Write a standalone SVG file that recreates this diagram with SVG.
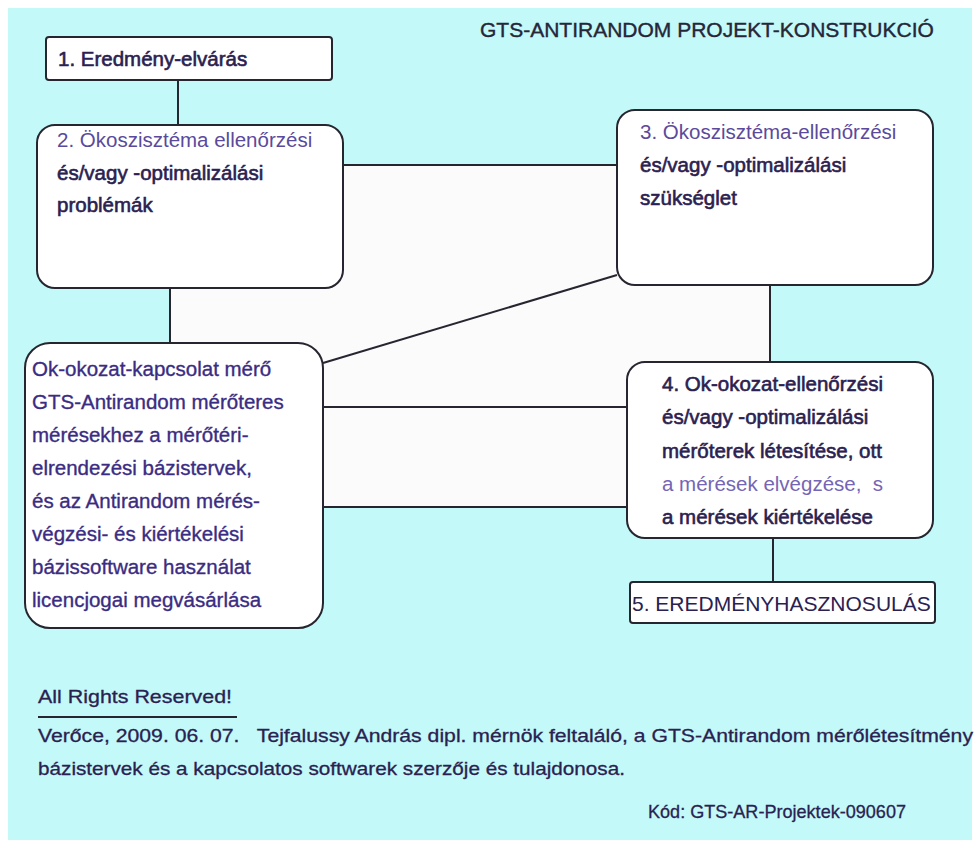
<svg xmlns="http://www.w3.org/2000/svg" width="977" height="845" viewBox="0 0 977 845">
<style>
.box{fill:#ffffff;stroke:#262630;stroke-width:2}
.ln{stroke:#262630;stroke-width:2;fill:none}
.t{font-family:"Liberation Sans",Arial,sans-serif;font-size:20.5px;fill:#2a2150}
.b{stroke:#2a2150;stroke-width:0.6}
.p{fill:#5a4a9c}
.lp{fill:#7565b5}
.lb{fill:#3a2c82;stroke:#3a2c82;stroke-width:0.35}
.s{font-family:"Liberation Sans",Arial,sans-serif;font-size:19px;fill:#2a2150;stroke:#2a2150;stroke-width:0.3}
</style>
<rect x="0" y="0" width="977" height="845" fill="#ffffff"/>
<rect x="8" y="8" width="964" height="832" fill="#c3f9f9"/>
<path d="M170,165 H770 V407 H627 V507 H323 V407 H170 Z" fill="#fbfbfb"/>
<text class="t" x="480" y="37" style="font-size:21px;fill:#262638;stroke:#262638;stroke-width:0.4">GTS-ANTIRANDOM PROJEKT-KONSTRUKCIÓ</text>
<g id="connectors">
<line class="ln" x1="178" y1="80" x2="178" y2="125"/>
<line class="ln" x1="343" y1="165" x2="617" y2="165"/>
<line class="ln" x1="170" y1="288" x2="170" y2="343"/>
<line class="ln" x1="323" y1="363" x2="617" y2="275"/>
<line class="ln" x1="323" y1="407" x2="627" y2="407"/>
<line class="ln" x1="323" y1="507" x2="627" y2="507"/>
<line class="ln" x1="770" y1="285" x2="770" y2="362"/>
<line class="ln" x1="773" y1="538" x2="773" y2="582"/>
</g>
<g id="n1">
<rect class="box" x="46" y="37" width="286" height="43" rx="3"/>
<text class="t b" x="58" y="66">1. Eredmény-elvárás</text>
</g>
<g id="n2">
<rect class="box" x="37" y="125" width="306" height="163" rx="18"/>
<text class="t p" x="57" y="147">2. Ökoszisztéma ellenőrzési</text>
<text class="t b" x="57" y="180">és/vagy -optimalizálási</text>
<text class="t b" x="57" y="212">problémák</text>
</g>
<g id="n3">
<rect class="box" x="617" y="110" width="316" height="175" rx="18"/>
<text class="t p" x="640" y="139">3. Ökoszisztéma-ellenőrzési</text>
<text class="t b" x="640" y="172">és/vagy -optimalizálási</text>
<text class="t b" x="640" y="205">szükséglet</text>
</g>
<g id="n-left">
<rect class="box" x="25" y="343" width="298" height="285" rx="25"/>
<text class="t lb" x="32" y="376">Ok-okozat-kapcsolat mérő</text>
<text class="t lb" x="32" y="409">GTS-Antirandom mérőteres</text>
<text class="t lb" x="32" y="442">mérésekhez a mérőtéri-</text>
<text class="t lb" x="32" y="475">elrendezési bázistervek,</text>
<text class="t lb" x="32" y="508">és az Antirandom mérés-</text>
<text class="t lb" x="32" y="541">végzési- és kiértékelési</text>
<text class="t lb" x="32" y="574">bázissoftware használat</text>
<text class="t lb" x="32" y="607">licencjogai megvásárlása</text>
</g>
<g id="n4">
<rect class="box" x="627" y="362" width="306" height="176" rx="18"/>
<text class="t b" x="662" y="391">4. Ok-okozat-ellenőrzési</text>
<text class="t b" x="662" y="424">és/vagy -optimalizálási</text>
<text class="t b" x="662" y="458">mérőterek létesítése, ott</text>
<text class="t lp" x="662" y="491" xml:space="preserve">a mérések elvégzése,  s</text>
<text class="t b" x="662" y="524">a mérések kiértékelése</text>
</g>
<g id="n5">
<rect class="box" x="630" y="582" width="305" height="41" rx="3"/>
<text class="t" x="632" y="611" style="font-size:21px">5. EREDMÉNYHASZNOSULÁS</text>
</g>
<g id="footer">
<text class="s" x="38" y="703" textLength="194" lengthAdjust="spacingAndGlyphs">All Rights Reserved!</text>
<line class="ln" x1="38" y1="717" x2="237" y2="717"/>
<text class="s" x="38" y="742" textLength="935" lengthAdjust="spacingAndGlyphs" xml:space="preserve">Verőce, 2009. 06. 07.   Tejfalussy András dipl. mérnök feltaláló, a GTS-Antirandom mérőlétesítmény</text>
<text class="s" x="38" y="775" textLength="587" lengthAdjust="spacingAndGlyphs">bázistervek és a kapcsolatos softwarek szerzője és tulajdonosa.</text>
<text class="s" x="648" y="818" textLength="258" lengthAdjust="spacingAndGlyphs">Kód: GTS-AR-Projektek-090607</text>
</g>
</svg>
